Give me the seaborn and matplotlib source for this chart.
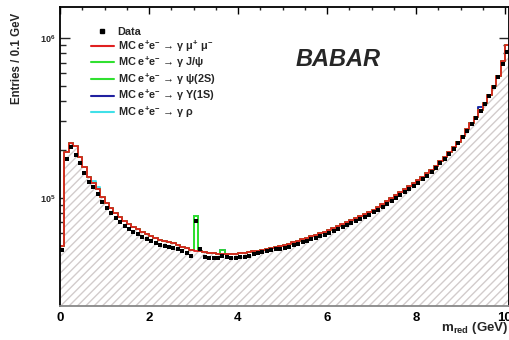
import numpy as np
import matplotlib
matplotlib.use("Agg")
import matplotlib.pyplot as plt
from matplotlib.lines import Line2D
from matplotlib.ticker import MultipleLocator, LogLocator, NullFormatter, FixedLocator
import seaborn as sns

# ---------------- data (0.1 GeV bins from 0 to 10.1 GeV) ----------------
bin_edges = [round(0.1 * k, 1) for k in range(102)]
bin_centers = [round(0.05 + 0.1 * k, 2) for k in range(101)]

data_counts = [
    47300, 175000, 208000, 186000, 165000, 143000, 126000, 117000, 106000, 94400,
    86600, 80600, 75000, 70800, 66800, 64000, 61300, 59600, 57000, 55400,
    53800, 52300, 50800, 50100, 49400, 48700, 48000, 46600, 45300, 43400,
    71800, 48000, 42800, 42200, 42200, 42200, 43400, 42800, 42200, 42200,
    42800, 42800, 43400, 44700, 45300, 46000, 46600, 47000, 47700, 48000,
    48700, 49400, 50400, 51600, 52700, 53800, 55000, 56200, 57500, 58700,
    60400, 62200, 64000, 65900, 67800, 69800, 71800, 73900, 76100, 78300,
    81200, 84100, 87800, 91700, 95800, 100000, 104400, 109000, 113800, 118900,
    124000, 130500, 137300, 145400, 154000, 164300, 175300, 188200, 202200, 219000,
    238800, 262300, 288000, 316200, 349800, 386000, 433000, 494000, 570000, 688000,
    818000,
]

mc_mumu = [
    50000, 194000, 221000, 210000, 180000, 155000, 135000, 124000, 113000, 101000,
    92500, 86000, 80500, 76000, 71500, 68500, 65500, 63500, 61000, 59300,
    57600, 56000, 54500, 53600, 52800, 52000, 50300, 49300, 48200, 47000,
    46500, 46200, 45600, 45300, 45000, 44700, 44700, 44700, 44700, 44700,
    45000, 45300, 45600, 46300, 46600, 47300, 48000, 48400, 49000, 49500,
    50500, 51500, 52500, 53600, 54800, 56000, 57200, 58400, 59700, 61000,
    62800, 64500, 66400, 68300, 70300, 72300, 74400, 76600, 78900, 81300,
    84300, 87300, 91000, 95000, 99200, 103500, 108000, 112800, 117800, 123000,
    128500, 135000, 141800, 149800, 158500, 168500, 179500, 192500, 206500, 224000,
    244000, 268000, 294000, 322000, 355000, 393000, 440000, 502000, 580000, 720000,
    900000,
]

# small resonance contributions (only non-zero bins listed)
jpsi_bins, jpsi_counts = [30], [30700]
psi2s_bins, psi2s_counts = [36], [2300]
ups_bins, ups_counts = [94], [12000]
rho_bins, rho_counts = [7, 8], [4000, 3500]

legend_labels = [
    "Data",
    "MC e$^{+}$e$^{-}$ \u2192 \u03b3 \u03bc$^{+}$ \u03bc$^{-}$",
    "MC e$^{+}$e$^{-}$ \u2192 \u03b3 J/\u03c8",
    "MC e$^{+}$e$^{-}$ \u2192 \u03b3 \u03c8(2S)",
    "MC e$^{+}$e$^{-}$ \u2192 \u03b3 \u03a5(1S)",
    "MC e$^{+}$e$^{-}$ \u2192 \u03b3 \u03c1",
]
x_ticks = [0, 2, 4, 6, 8, 10]

# ---------------- build stacked components ----------------
def spread(bins, counts):
    arr = np.zeros(len(bin_centers))
    for b, c in zip(bins, counts):
        arr[b] = c
    return arr

mumu = np.array(mc_mumu, dtype=float)
stack_jpsi = mumu + spread(jpsi_bins, jpsi_counts)
stack_psi = stack_jpsi + spread(psi2s_bins, psi2s_counts)
stack_ups = stack_psi + spread(ups_bins, ups_counts)
stack_rho = stack_ups + spread(rho_bins, rho_counts)

# ---------------- figure ----------------
sns.set_theme(style="white")
plt.rcParams["font.family"] = ["Liberation Sans", "DejaVu Sans"]
plt.rcParams["font.weight"] = "bold"
plt.rcParams["mathtext.fontset"] = "custom"
plt.rcParams["mathtext.rm"] = "Liberation Sans:bold"
plt.rcParams["mathtext.bf"] = "Liberation Sans:bold"
plt.rcParams["mathtext.it"] = "Liberation Sans:bold:italic"
plt.rcParams["mathtext.fallback"] = "stixsans"

W, H = 509, 340
fig = plt.figure(figsize=(W / 100, H / 100), dpi=100)
ax = fig.add_axes([60 / W, (H - 306) / H, (509.45 - 60) / W, (306 - 7) / H])

# hatched fill under the MC histogram
sns.histplot(x=bin_centers, weights=mumu, bins=bin_edges, element="step",
             fill=True, facecolor="white", edgecolor="#d2cccc", hatch="////",
             linewidth=0, alpha=1, ax=ax)

line_kw = dict(bins=bin_edges, element="step", fill=False, linewidth=1.3, ax=ax)
sns.histplot(x=bin_centers, weights=stack_rho, color="#40e0e8", **line_kw)
sns.histplot(x=bin_centers, weights=stack_ups, color="#2020a0", **line_kw)
sns.histplot(x=bin_centers, weights=stack_psi, color="#30e030", **line_kw)
sns.histplot(x=bin_centers, weights=stack_jpsi, color="#30e030", **line_kw)
sns.histplot(x=bin_centers, weights=mumu, color="#e02020", **line_kw)

sns.scatterplot(x=bin_centers, y=data_counts, marker="s", color="black",
                s=10, linewidth=0, ax=ax, zorder=5)

ax.set_yscale("log")
ax.set_xlim(0, 10.1)
ax.set_ylim(21000, 1.56e6)
ax.set_xlabel("")
ax.set_ylabel("")

# ticks
ax.xaxis.set_major_locator(FixedLocator(x_ticks))
ax.xaxis.set_minor_locator(MultipleLocator(0.5))
ax.set_xticklabels([str(t) for t in x_ticks], fontsize=9.5, fontweight="bold")
ax.tick_params(axis="x", which="major", direction="in", top=True, bottom=False,
               length=5, width=1, pad=4, colors="black")
ax.tick_params(axis="x", which="minor", direction="in", top=True, bottom=False,
               length=2.5, width=1)
ax.yaxis.set_major_locator(FixedLocator([1e5, 1e6]))
ax.set_yticklabels([r"$\mathbf{10^{5}}$", r"$\mathbf{10^{6}}$"], fontsize=6.5)
ax.yaxis.set_minor_locator(LogLocator(base=10, subs=np.arange(2, 10)))
ax.yaxis.set_minor_formatter(NullFormatter())
ax.tick_params(axis="y", which="major", direction="in", left=True, right=True,
               length=7, width=1, pad=3)
ax.tick_params(axis="y", which="minor", direction="in", left=True, right=True,
               length=4, width=1)

for side in ["left", "top", "right"]:
    ax.spines[side].set_color("black")
    ax.spines[side].set_linewidth(1.3)
ax.spines["bottom"].set_color("#888888")
ax.spines["bottom"].set_linewidth(1.3)

# legend
handles = [
    Line2D([], [], marker="s", linestyle="none", color="black", markersize=3.2),
    Line2D([], [], color="#e02020", linewidth=1.5),
    Line2D([], [], color="#30e030", linewidth=1.5),
    Line2D([], [], color="#30e030", linewidth=1.5),
    Line2D([], [], color="#2020a0", linewidth=1.5),
    Line2D([], [], color="#40e0e8", linewidth=1.5),
]
ax.legend(handles, legend_labels, loc="upper left",
          bbox_to_anchor=(91 / W, 1 - 27 / H), bbox_transform=fig.transFigure,
          frameon=False, handlelength=2.1, handletextpad=0.35,
          labelspacing=0.12, borderpad=0, borderaxespad=0,
          prop={"weight": "bold", "size": 7.8})

# texts
fig.text(338 / W, 1 - 60 / H, "BABAR", fontsize=17, fontweight="bold",
         fontstyle="italic", ha="center", va="center")
fig.text(17 / W, 1 - 58 / H, "Entries / 0.1 GeV", rotation=90, fontsize=8.3,
         fontweight="bold", ha="center", va="center")
fig.text(441 / W, 1 - 331 / H, r"m$_{\mathrm{red}}$ (GeV)", fontsize=9.6,
         fontweight="bold", ha="left", va="baseline")

fig.savefig("out.png", dpi=100)
